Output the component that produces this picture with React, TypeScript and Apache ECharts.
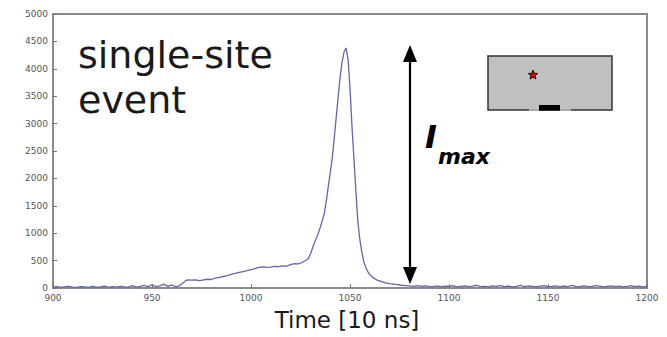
import React, { useEffect, useRef } from "react";
import * as echarts from "echarts";

// x ticks / y ticks
const xMin = 900;
const xMax = 1200;
const xStep = 50;
const yMin = 0;
const yMax = 5000;
const yStep = 500;

// leading baseline, sampled every 2 (starting at 900)
const leadStart = 900;
const leadValues = [15, 25, 10, 20, 30, 15, 10, 25, 20, 10, 30, 15, 20, 35, 10, 25, 15, 30, 20, 10, 45, 15, 30, 50, 20, 60, 25, 40, 70, 30, 55, 20, 45];

// pulse region (irregular sampling)
const pulseTimes = [966, 967, 968, 970, 972, 974, 976, 978, 980, 982, 984, 986, 988, 990, 992, 994, 996, 998, 1000, 1002, 1004, 1006, 1008, 1010, 1012, 1014, 1016, 1018, 1020, 1022, 1024, 1026, 1028, 1029, 1030, 1031, 1032, 1033, 1034, 1035, 1036, 1037, 1038, 1039, 1040, 1041, 1042, 1043, 1044, 1045, 1046, 1047, 1048, 1049, 1050, 1051, 1052, 1053, 1054, 1055, 1056, 1057, 1058, 1059, 1060, 1062, 1064, 1066, 1068, 1070, 1072, 1074, 1076, 1078, 1080, 1082, 1084, 1086, 1088, 1090];
const pulseValues = [100, 135, 150, 145, 150, 135, 150, 160, 155, 180, 195, 210, 225, 250, 265, 285, 300, 315, 335, 355, 375, 385, 375, 380, 395, 390, 405, 400, 425, 445, 440, 470, 510, 540, 620, 720, 820, 910, 1000, 1110, 1230, 1360, 1580, 1840, 2100, 2360, 2720, 3100, 3480, 3850, 4120, 4310, 4380, 4180, 3650, 2950, 2350, 1750, 1200, 880, 650, 480, 370, 300, 240, 180, 140, 115, 95, 80, 70, 60, 50, 45, 40, 30, 45, 30, 40, 30];

// trailing baseline, sampled every 2 (starting at 1092)
const tailStart = 1092;
const tailValues = [25, 40, 20, 35, 30, 45, 20, 30, 40, 25, 35, 50, 25, 30, 20, 40, 30, 45, 25, 35, 20, 30, 50, 25, 40, 30, 20, 35, 45, 25, 30, 40, 20, 35, 25, 50, 30, 20, 40, 30, 25, 45, 35, 20, 30, 40, 25, 35, 20, 30, 45, 25, 35, 20, 30];

const sampleStep = 2;

function starPoints(cx: number, cy: number, ro: number, ri: number): number[][] {
  const pts: number[][] = [];
  for (let i = 0; i < 10; i++) {
    const r = i % 2 === 0 ? ro : ri;
    const a = -Math.PI / 2 + (i * Math.PI) / 5;
    pts.push([cx + r * Math.cos(a), cy + r * Math.sin(a)]);
  }
  return pts;
}

export default function App() {
  const ref = useRef<HTMLDivElement>(null);

  useEffect(() => {
    if (!ref.current) return;
    const chart = echarts.init(ref.current, undefined, { renderer: "svg" });

    const data: number[][] = [];
    leadValues.forEach((v, i) => data.push([leadStart + i * sampleStep, v]));
    pulseTimes.forEach((t, i) => data.push([t, pulseValues[i]]));
    tailValues.forEach((v, i) => data.push([tailStart + i * sampleStep, v]));

    const axisGray = "#8a8a8a";
    const labelStyle = {
      color: "#555",
      fontSize: 9,
      fontFamily: "DejaVu Sans",
      formatter: (v: number) => String(v),
    };
    const textFont = "DejaVu Sans";

    chart.setOption({
      animation: false,
      backgroundColor: "#ffffff",
      grid: {
        left: 53,
        right: 20,
        top: 14,
        bottom: 49,
        show: true,
        borderColor: axisGray,
        borderWidth: 2,
        backgroundColor: "#ffffff",
      },
      xAxis: {
        type: "value",
        min: xMin,
        max: xMax,
        interval: xStep,
        splitLine: { show: false },
        axisLine: { show: true, lineStyle: { color: axisGray, width: 2 } },
        axisTick: { show: true, inside: true, length: 4, lineStyle: { color: "#777" } },
        axisLabel: { ...labelStyle, margin: 5 },
      },
      yAxis: {
        type: "value",
        min: yMin,
        max: yMax,
        interval: yStep,
        splitLine: { show: false },
        axisLine: { show: true, lineStyle: { color: axisGray, width: 2 } },
        axisTick: { show: true, inside: true, length: 4, lineStyle: { color: "#777" } },
        axisLabel: { ...labelStyle, margin: 5 },
      },
      series: [
        {
          type: "line",
          data,
          showSymbol: false,
          lineStyle: { color: "#6366a8", width: 1.3 },
        },
      ],
      graphic: [
        {
          type: "text",
          style: { text: "single-site", x: 78, y: 55, verticalAlign: "middle", align: "left", font: `normal 38px "${textFont}"`, fill: "#1a1a1a" },
        },
        {
          type: "text",
          style: { text: "event", x: 78, y: 100, verticalAlign: "middle", align: "left", font: `normal 38px "${textFont}"`, fill: "#1a1a1a" },
        },
        {
          type: "text",
          style: { text: "Time [10 ns]", x: 347, y: 320, verticalAlign: "middle", align: "center", font: `normal 23px "${textFont}"`, fill: "#1a1a1a" },
        },
        // double arrow
        { type: "line", shape: { x1: 410, y1: 58, x2: 410, y2: 270 }, style: { stroke: "#000", lineWidth: 2.2 } },
        { type: "polygon", shape: { points: [[410, 45], [403, 62], [417, 62]] }, style: { fill: "#000" } },
        { type: "polygon", shape: { points: [[410, 284], [403, 267], [417, 267]] }, style: { fill: "#000" } },
        {
          type: "text",
          style: { text: "I", x: 425, y: 137, verticalAlign: "middle", align: "left", font: `italic bold 32px "${textFont}"`, fill: "#000" },
        },
        {
          type: "text",
          style: { text: "max", x: 438, y: 156, verticalAlign: "middle", align: "left", font: `italic bold 22px "${textFont}"`, fill: "#000" },
        },
        // inset detector sketch
        { type: "rect", shape: { x: 488, y: 56, width: 124, height: 54 }, style: { fill: "#c0c0c0", stroke: "#333", lineWidth: 1.5 } },
        { type: "line", shape: { x1: 529, y1: 110, x2: 539, y2: 110 }, style: { stroke: "#aaa", lineWidth: 2 } },
        { type: "line", shape: { x1: 560, y1: 110, x2: 571, y2: 110 }, style: { stroke: "#aaa", lineWidth: 2 } },
        { type: "rect", shape: { x: 539, y: 105, width: 21, height: 5.5 }, style: { fill: "#000" } },
        { type: "polygon", shape: { points: starPoints(533, 75, 5, 2.2) }, style: { fill: "#e00000", stroke: "#000", lineWidth: 0.8 } },
      ],
    });

    return () => chart.dispose();
  }, []);

  return <div ref={ref} style={{ width: 667, height: 337, position: "absolute", left: 0, top: 0 }} />;
}
